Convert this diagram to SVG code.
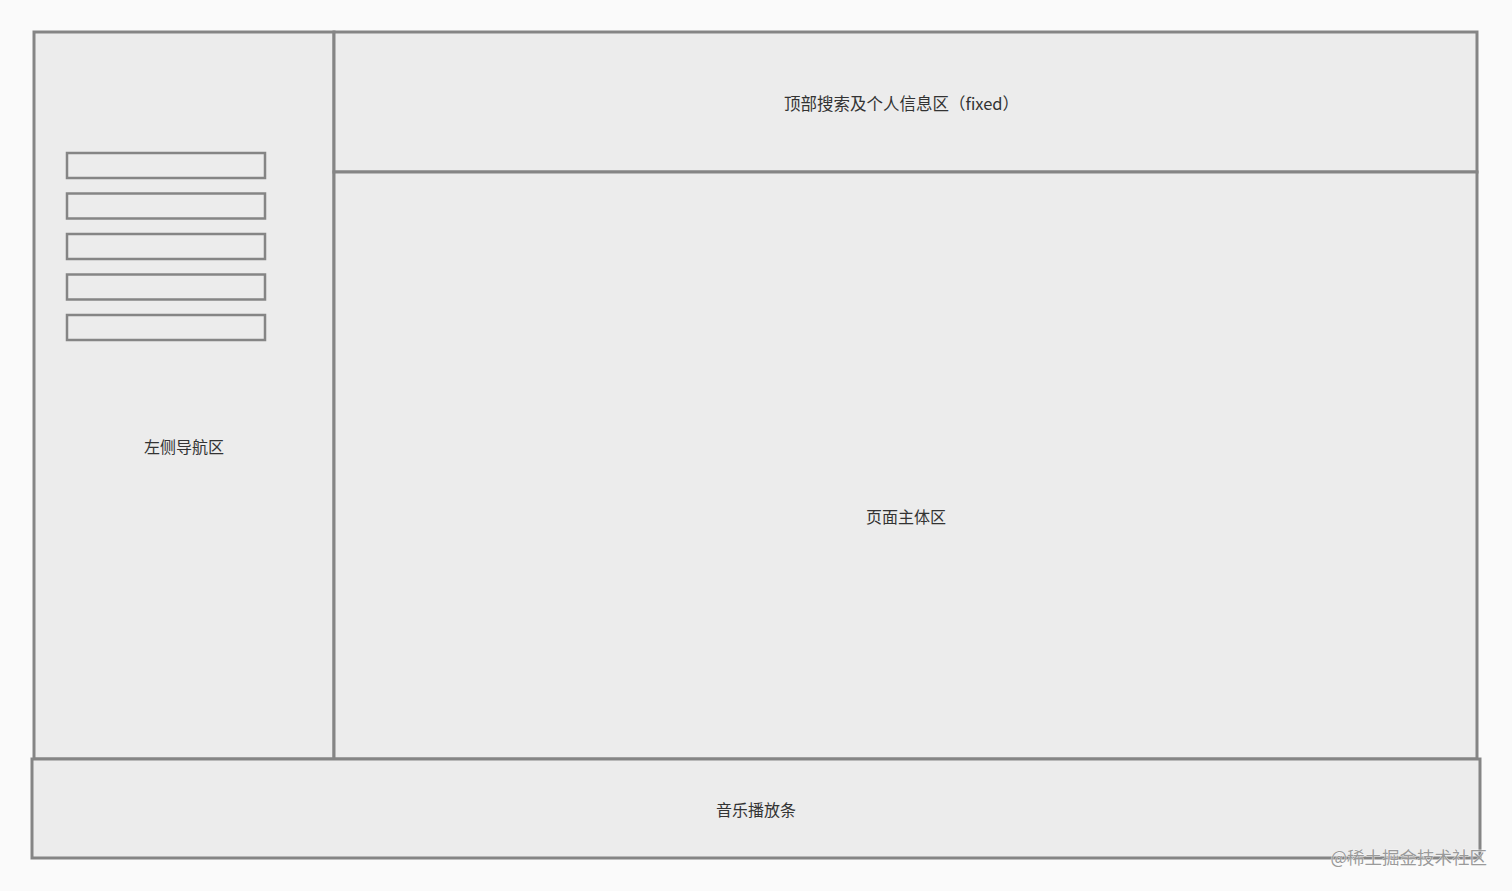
<svg xmlns="http://www.w3.org/2000/svg" width="1512" height="891" viewBox="0 0 1512 891">
<style>
.box{fill:#ececec;stroke:#858585;stroke-width:3}
.item{fill:#ececec;stroke:#858585;stroke-width:2.5}
.lbl{font-family:"Noto Sans CJK SC","Noto Sans",sans-serif;font-size:16px;fill:#333;text-anchor:middle;dominant-baseline:central}
.wm{font-family:"Noto Sans CJK SC","Noto Sans",sans-serif;font-size:17.5px;fill:#9a9a9a;stroke:#ffffff;stroke-width:0.6;paint-order:stroke;text-anchor:end;dominant-baseline:central}
</style>
<rect width="1512" height="891" fill="#fafafa"/>
<g id="left-nav">
<rect class="box" x="34" y="32" width="300" height="727"/>
<text class="lbl" x="184" y="446">左侧导航区</text>
</g>
<g id="nav-items">
<rect class="item" x="67" y="153" width="198" height="25"/>
<rect class="item" x="67" y="193.5" width="198" height="25"/>
<rect class="item" x="67" y="234" width="198" height="25"/>
<rect class="item" x="67" y="274.5" width="198" height="25"/>
<rect class="item" x="67" y="315" width="198" height="25"/>
</g>
<g id="header">
<rect class="box" x="334" y="32" width="1143" height="140"/>
<text class="lbl" x="901.5" y="103" style="font-size:16.5px">顶部搜索及个人信息区（fixed）</text>
</g>
<g id="main">
<rect class="box" x="334" y="172" width="1143" height="587"/>
<text class="lbl" x="906" y="516">页面主体区</text>
</g>
<g id="player">
<rect class="box" x="32" y="759" width="1448" height="99"/>
<text class="lbl" x="756" y="809">音乐播放条</text>
</g>
<g id="connectors"/>
<text class="wm" x="1487" y="856">@稀土掘金技术社区</text>
</svg>
